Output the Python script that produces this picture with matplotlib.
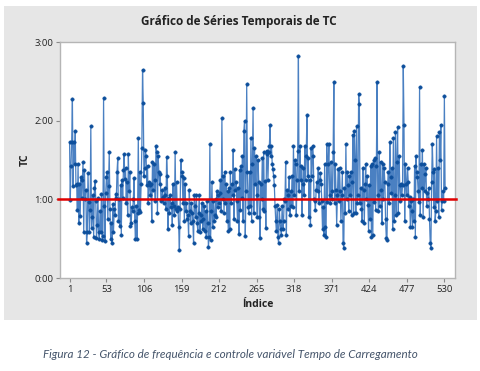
import matplotlib
matplotlib.use("Agg")
import matplotlib.pyplot as plt
from matplotlib.patches import Rectangle
from matplotlib.ticker import FuncFormatter
import numpy as np

# TC values (hours)
seg_a = [1.73, 0.99, 1.43, 1.73, 2.27, 1.17, 1.73, 1.45, 1.87, 1.18,
         1.20, 0.87, 1.45, 0.70, 1.19, 0.79, 1.28, 1.02, 1.25, 1.47,
         0.58, 1.37, 1.01, 1.12, 0.45, 0.58, 1.33, 0.96, 0.59, 0.87,
         1.93, 0.63, 0.78, 1.05, 0.52, 1.14, 1.23, 0.98, 0.51, 0.67,
         1.02, 0.59, 0.50, 0.85, 0.58, 1.07, 0.48, 0.53, 2.29, 0.92,
         0.47, 1.08, 1.28]
seg_b = [1.35, 0.75, 1.17, 1.60, 0.88, 0.50, 0.70, 0.45, 0.94, 0.58,
         0.88, 0.80, 1.07, 1.02, 1.35, 1.52, 0.73, 1.00, 0.66, 1.18,
         0.55, 1.25, 1.02, 1.37, 1.57, 1.26, 1.40, 0.95, 1.22, 0.80,
         1.57, 1.10, 1.35, 0.66, 0.70, 0.90, 0.85, 1.00, 1.27, 0.72,
         0.50, 0.92, 0.50, 0.82, 1.78, 0.87, 1.35, 0.84, 1.20, 1.65,
         2.65, 2.22, 1.30]
seg_c = [1.40, 1.63, 1.55, 1.18, 1.43, 0.95, 1.22, 1.18, 1.05, 1.20,
         0.73, 1.47, 1.12, 1.45, 1.24, 0.98, 1.68, 1.60, 0.82, 1.55,
         1.35, 1.20, 1.32, 0.98, 1.00, 1.12, 1.03, 0.95, 1.06, 1.15,
         0.88, 1.54, 1.30, 0.62, 1.02, 0.82, 1.05, 0.90, 0.95, 0.68,
         1.20, 0.92, 0.80, 1.60, 0.88, 1.22, 0.85, 0.90, 0.65, 0.36,
         0.88, 1.50, 1.35]
seg_d = [1.30, 0.95, 1.27, 0.72, 1.20, 0.85, 0.95, 0.75, 0.80, 0.53,
         1.12, 0.85, 0.70, 0.95, 0.83, 0.72, 0.45, 1.05, 0.92, 0.78,
         1.05, 0.70, 0.60, 0.82, 1.05, 0.58, 0.80, 0.72, 0.95, 0.62,
         0.75, 0.92, 0.60, 0.85, 0.52, 0.98, 0.70, 0.40, 0.52, 1.70,
         0.48, 0.85, 1.22, 0.65, 0.98, 0.72, 0.80, 1.00, 0.78, 1.10,
         0.90, 1.05, 0.95]
seg_e = [1.08, 1.25, 0.85, 2.03, 1.00, 1.30, 0.82, 1.35, 0.95, 1.20,
         0.72, 1.10, 0.60, 1.15, 0.62, 1.35, 0.95, 1.20, 1.05, 1.63,
         0.75, 1.38, 1.12, 1.22, 0.98, 0.73, 1.15, 0.56, 1.37, 0.86,
         1.42, 1.02, 1.55, 0.72, 1.87, 2.00, 0.54, 1.10, 2.46, 1.35,
         0.90, 0.82, 1.35, 0.92, 1.78, 0.73, 1.45, 2.16, 0.82, 1.65,
         1.20, 1.55, 1.05]
seg_f = [0.78, 1.50, 1.22, 0.77, 0.51, 1.20, 1.00, 1.53, 0.88, 1.60,
         0.85, 1.23, 0.64, 1.62, 1.57, 1.25, 1.60, 1.68, 1.94, 1.55,
         1.68, 1.45, 1.38, 1.30, 1.18, 0.92, 0.72, 0.60, 0.93, 0.52,
         0.45, 0.88, 0.72, 0.62, 0.55, 0.92, 0.62, 0.72, 1.00, 0.98,
         1.48, 0.55, 1.12, 0.88, 1.05, 1.28, 0.80, 1.10, 0.92, 1.30,
         0.90, 1.68, 1.05]
seg_g = [1.50, 1.45, 0.80, 1.25, 1.62, 2.82, 1.10, 1.68, 1.25, 1.42,
         0.80, 1.20, 1.40, 1.05, 1.68, 1.25, 1.55, 2.07, 1.30, 1.52,
         0.77, 1.25, 0.67, 1.65, 1.30, 1.68, 1.55, 1.00, 0.98, 0.87,
         1.12, 1.22, 1.10, 1.40, 0.95, 1.25, 1.33, 1.20, 0.98, 0.62,
         0.90, 0.55, 1.45, 0.65, 0.52, 1.70, 0.97, 1.45, 1.70, 1.05,
         0.95, 1.48, 1.00]
seg_h = [1.10, 1.60, 2.49, 0.95, 1.45, 1.12, 0.68, 1.05, 1.38, 0.98,
         1.40, 1.10, 0.72, 1.05, 1.35, 0.45, 0.38, 1.15, 0.82, 1.70,
         1.00, 1.35, 1.18, 0.85, 1.30, 1.05, 1.35, 0.80, 1.22, 1.82,
         0.82, 1.87, 1.50, 0.82, 1.93, 0.95, 1.05, 2.34, 2.21, 0.95,
         1.15, 0.88, 0.72, 1.40, 1.12, 0.70, 1.20, 1.45, 1.00, 1.30,
         0.93, 0.60, 1.18]
seg_i = [0.75, 1.43, 0.52, 1.45, 0.55, 1.50, 0.97, 1.52, 0.87, 1.43,
         2.49, 1.05, 0.85, 1.60, 0.92, 1.48, 1.12, 0.70, 1.45, 1.00,
         1.40, 1.22, 0.75, 0.51, 0.48, 1.20, 1.35, 0.95, 1.73, 1.28,
         1.08, 1.40, 0.62, 1.78, 0.72, 1.05, 1.85, 0.80, 1.48, 1.92,
         0.82, 1.55, 1.18, 0.98, 1.20, 1.05, 1.18, 2.70, 1.94, 0.72,
         1.45, 1.20, 1.05]
seg_j = [1.40, 1.22, 0.92, 1.03, 0.65, 0.98, 0.85, 0.65, 1.00, 0.72,
         1.43, 0.52, 1.55, 1.35, 1.28, 1.10, 0.96, 2.43, 0.80, 1.45,
         1.15, 1.63, 0.78, 1.45, 1.10, 1.32, 1.40, 0.92, 1.08, 1.00,
         1.15, 0.75, 0.45, 0.38, 1.22, 1.70, 1.35, 0.90, 1.38, 0.72,
         0.85, 1.80, 0.98, 1.40, 0.78, 1.85, 1.50, 1.95, 0.87, 0.98,
         1.10, 0.98, 2.31, 1.15]

tc = np.array(seg_a + seg_b + seg_c + seg_d + seg_e + seg_f + seg_g + seg_h + seg_i + seg_j)
idx = np.arange(1, len(tc) + 1)
xticks = [1, 53, 106, 159, 212, 265, 318, 371, 424, 477, 530]
yticks = [0, 1, 2, 3]
ref_value = 1.0

fig = plt.figure(figsize=(4.8, 3.71), dpi=100)
fig.patch.set_facecolor("white")
# gray Minitab panel behind the axes
fig.add_artist(Rectangle((4 / 480, 1 - 320 / 371), 473 / 480, 314 / 371,
                         transform=fig.transFigure, facecolor="#e6e6e6",
                         edgecolor="none", zorder=-10))

ax = fig.add_axes([60 / 480, 1 - 278 / 371, 395 / 480, 236 / 371])
ax.set_zorder(5)
ax.set_facecolor("white")
ax.plot(idx, tc, color="#4a80c2", lw=0.9, zorder=2)
ax.plot(idx, tc, ls="none", marker="o", ms=2.5, color="#0d4f9c", mec="#0d4f9c", mew=0.3, zorder=3)
ax.axhline(ref_value, xmin=-0.005, xmax=1.003, color="#e00000", lw=1.8, zorder=4, clip_on=False)

ax.set_xlim(-12.5, 545)
ax.set_ylim(0, 3)
ax.set_xticks(xticks)
ax.set_yticks(yticks)
ax.yaxis.set_major_formatter(FuncFormatter(lambda v, p: "%d:%02d" % (int(v), round((v % 1) * 60))))

for s in ax.spines.values():
    s.set_color("#b5b5b5")
    s.set_linewidth(1.0)
ax.tick_params(direction="out", length=3, width=0.8, color="#8a8a8a",
               labelsize=6.8, labelcolor="#222222", pad=2)
for lab in ax.get_xticklabels() + ax.get_yticklabels():
    lab.set_family("Open Sans")

ax.set_xlabel("Índice", fontsize=7.5, fontweight="bold", family="Open Sans", color="#222222")
ax.set_ylabel("TC", fontsize=7.5, fontweight="bold", family="Open Sans", color="#222222")
ax.xaxis.set_label_coords(0.5, -0.091)
ax.yaxis.set_label_coords(-0.073, 0.5)
fig.text(0.498, 1 - 22 / 371, "Gráfico de Séries Temporais de TC", ha="center", va="center",
         fontsize=8.5, fontweight="bold", family="Open Sans", color="#222222")

fig.text(0.479, 1 - 355 / 371, "Figura 12 - Gráfico de frequência e controle variável Tempo de Carregamento",
         ha="center", va="center", fontsize=8.4, style="italic", family="Lato", color="#44546a")

fig.savefig("out.png", dpi=100, facecolor="white")
